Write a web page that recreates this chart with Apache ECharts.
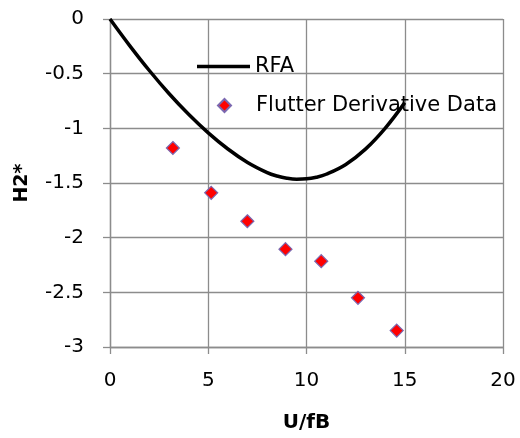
<!DOCTYPE html>
<html>
<head>
<meta charset="utf-8">
<script src="https://cdn.jsdelivr.net/npm/echarts@6/dist/echarts.min.js"></script>
<style>
  html, body { margin: 0; padding: 0; background: #fff; }
  #chart { width: 520px; height: 438px; }
</style>
</head>
<body>
<div id="chart"></div>
<script>
// RFA curve
const rfaX = [0, 1, 2, 3, 4, 5, 6, 7, 8, 8.5, 9, 9.5, 10, 10.5, 11, 12, 13, 14, 15];
const rfaY = [0, -0.243, -0.471, -0.681, -0.871, -1.041, -1.189, -1.312, -1.405, -1.436, -1.456, -1.465, -1.462, -1.447, -1.42, -1.33, -1.19, -1.0, -0.765];

// flutter derivative data points
const fdX = [3.2, 5.15, 6.99, 8.93, 10.75, 12.62, 14.59];
const fdY = [-1.18, -1.59, -1.85, -2.105, -2.215, -2.55, -2.85];

const font = '"DejaVu Sans", sans-serif';
const gridColor = '#8c8c8c';

let chart = echarts.init(document.getElementById('chart'));

let option = {
  animation: false,
  textStyle: { fontFamily: font },
  grid: { left: 110, right: 17, top: 19, bottom: 91 },
  legend: [
    {
      left: 192,
      top: 51,
      itemWidth: 53,
      itemHeight: 20,
      textStyle: { fontSize: 21, color: '#000', fontFamily: font },
      data: [{ name: 'RFA', icon: 'path://M0,0L53,0L53,3.5L0,3.5Z' }]
    },
    {
      left: 212,
      top: 90,
      itemWidth: 13,
      itemHeight: 13,
      textStyle: { fontSize: 21, color: '#000', fontFamily: font, padding: [0, 0, 0, 20] },
      data: [{ name: 'Flutter Derivative Data', icon: 'diamond' }]
    }
  ],
  xAxis: {
    type: 'value',
    min: 0, max: 20, interval: 5,
    name: 'U/fB',
    nameLocation: 'middle',
    nameGap: 66,
    nameTextStyle: { fontSize: 20, fontWeight: 'bold', color: '#000', fontFamily: font },
    axisLine: { onZero: false, lineStyle: { color: gridColor, width: 1.3 } },
    axisTick: { show: true, inside: false, length: 7, lineStyle: { color: gridColor, width: 1.3 } },
    axisLabel: { fontSize: 20, color: '#000', margin: 24, fontFamily: font },
    splitLine: { show: true, lineStyle: { color: gridColor, width: 1.3 } }
  },
  yAxis: {
    type: 'value',
    min: -3, max: 0, interval: 0.5,
    name: 'H2*',
    nameLocation: 'middle',
    nameGap: 78,
    nameTextStyle: { fontSize: 19, fontWeight: 'bold', color: '#000', fontFamily: font },
    axisLine: { show: true, onZero: false, lineStyle: { color: gridColor, width: 1.3 } },
    axisTick: { show: true, inside: false, length: 7, lineStyle: { color: gridColor, width: 1.3 } },
    axisLabel: { fontSize: 20, color: '#000', margin: 26, fontFamily: font },
    splitLine: { show: true, lineStyle: { color: gridColor, width: 1.3 } }
  },
  series: [
    {
      name: 'RFA',
      type: 'line',
      smooth: 0.4,
      symbol: 'none',
      lineStyle: { color: '#000', width: 3.5 },
      itemStyle: { color: '#000' },
      data: rfaX.map((x, i) => [x, rfaY[i]])
    },
    {
      name: 'Flutter Derivative Data',
      type: 'scatter',
      symbol: 'diamond',
      symbolSize: 13,
      itemStyle: { color: '#ff0000', borderColor: '#7b68b0', borderWidth: 1.2, opacity: 1 },
      data: fdX.map((x, i) => [x, fdY[i]])
    }
  ]
};

chart.setOption(option);
</script>
</body>
</html>
